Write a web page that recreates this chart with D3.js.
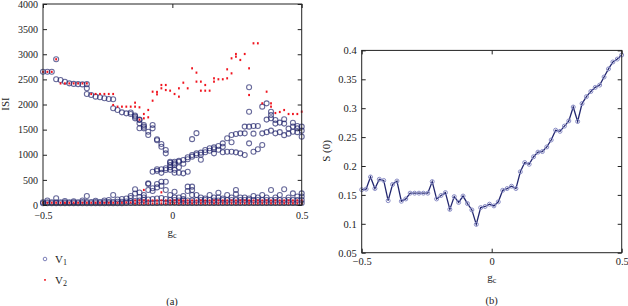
<!DOCTYPE html>
<html><head><meta charset="utf-8">
<script src="https://cdn.jsdelivr.net/npm/d3@7/dist/d3.min.js"></script>
<style>
body{margin:0;background:#fff;}
svg text{font-family:"Liberation Serif","Times New Roman",serif;fill:#222;}
</style></head>
<body><svg id="c" width="628" height="306"></svg>
<script>
// coupling strength grid (60 values, -0.5 .. 0.5)
const gc = [-0.5,-0.4831,-0.4661,-0.4492,-0.4322,-0.4153,-0.3983,-0.3814,-0.3644,-0.3475,
 -0.3305,-0.3136,-0.2966,-0.2797,-0.2627,-0.2458,-0.2288,-0.2119,-0.1949,-0.1780,
 -0.1610,-0.1441,-0.1271,-0.1102,-0.0932,-0.0763,-0.0593,-0.0424,-0.0254,-0.0085,
 0.0085,0.0254,0.0424,0.0593,0.0763,0.0932,0.1102,0.1271,0.1441,0.1610,
 0.1780,0.1949,0.2119,0.2288,0.2458,0.2627,0.2797,0.2966,0.3136,0.3305,
 0.3475,0.3644,0.3814,0.3983,0.4153,0.4322,0.4492,0.4661,0.4831,0.5];

// ISI values of V1 at each gc
const v1ISI = [
[2653,35,55],[2653,35,55,90],[2653,35,55],[2900,2501,35,55,133],[2487,35,55],
[2454,35,55,80],[2421,35,55],[2410,35,55,75],[2405,35,55],[2400,35,60,90],
[2405,2322,2209,35,60,179],[2189,35,60],[2156,35,60,85],[2143,35,60],[2123,35,60,90],
[2110,35,60,100],[2103,1924,35,60,199],[1890,35,65,110],[1844,35,65,120],[1824,40,70,130],
[1811,1840,40,75,179,140],[1758,1724,1780,40,80,312,230],[1691,1625,1526,1700,40,90,250,160],[1559,1592,1525,40,100,200,150],[1459,1393,40,110,431,418,300],
[1592,1525,663,40,120,332,280],[1307,1290,710,680,40,130,418,350],[1214,1160,710,640,45,140,464,380],[1094,1028,730,697,45,120,464,300],[862,796,842,750,700,45,100,200],
[829,862,800,643,700,45,100,265,150],[862,880,643,750,40,90,150],[895,630,820,40,90,120,180],[909,663,950,40,90,365,280],[962,995,1310,40,90,365,300,200],
[995,1028,1430,40,100,200],[1042,1000,900,40,100,150],[1094,1050,40,100,130],[1128,1080,40,100,200],[1147,1028,1110,40,90,150],
[1174,1100,40,90,245,150],[1227,1050,1160,40,100,130],[1327,1061,40,100,200],[1393,1061,1250,40,100,150],[1413,1048,40,100,299,220],
[1426,1028,40,100,150],[1426,995,1560,40,100,150],[2342,1857,1559,1227,40,100,130],[1572,1061,1420,40,100,180],[1572,1108,40,100,150],
[1957,1194,1426,40,100,200],[2023,1450,1700,40,100,150],[1857,1791,1725,1480,40,100,299],[1691,1426,1620,40,100,150],[1640,1450,40,100,200],
[1705,1620,1390,40,100,312],[1520,1420,40,100,150],[1638,1459,1560,40,100,232],[1572,1525,1450,40,100,170],[1559,1360,1480,40,100,232,170]
];

// ISI values of V2 at each gc
const v2ISI = [
[2650,45],[2650,45],[2650,45],[2900,45],[2420,45],
[2420,45],[2420,45],[2420,45],[2420,45],[2420,45],
[2420,45],[2209,45],[2209,45],[2209,45],[2209,45],
[2209,45],[2209,1990,45],[1957,45],[1957,45],[1957,50],
[1957,50],[2036,1957,30,90],[1944,1700,30,90],[1811,1725,30,90,299],[1891,1745,30,90],
[2076,2255,30,90],[2202,2250,30,90],[2388,2322,30,90,252],[2388,2288,30,90],[2275,30,90],
[2209,30,90],[2322,2156,30,90],[2434,30,90],[2322,30,90],[2720,30,90],
[2634,2455,30,90],[2455,2275,30,90],[2388,2275,30,90],[2275,30,90],[2521,2455,30,90],
[2502,30,90],[2502,30,90],[2700,2521,30,90],[2620,2919,30,90],[3005,2952,30,90],
[2886,30,90],[3005,30,90],[2720,2189,30,90],[3218,30,90],[3218,30,90],
[2023,30,90],[2255,30,90],[2023,1957,30,90],[1830,30,90],[1851,30,90],
[1890,30,90],[1811,30,90],[1811,30,90],[1811,30,90],[1857,30,90]
];

// S(0) at each gc
const s0 = [0.159,0.160,0.181,0.161,0.177,0.175,0.140,0.168,0.174,0.139,
 0.143,0.153,0.153,0.153,0.153,0.153,0.173,0.143,0.149,0.154,
 0.125,0.147,0.137,0.148,0.135,0.124,0.099,0.128,0.130,0.134,
 0.131,0.138,0.158,0.161,0.165,0.161,0.190,0.206,0.203,0.216,
 0.224,0.225,0.233,0.245,0.262,0.260,0.269,0.278,0.302,0.277,
 0.308,0.320,0.329,0.336,0.340,0.354,0.368,0.380,0.385,0.392];

const xTicks = [-0.5, 0, 0.5];
const isiTicks = [0,500,1000,1500,2000,2500,3000,3500,4000];
const sTicks = [0.05,0.1,0.15,0.2,0.25,0.3,0.35,0.4];

const svg = d3.select("#c");
const fmt = d3.format("~g");

function flat(arr){ const out=[]; arr.forEach((vals,i)=>vals.forEach(v=>out.push([gc[i],v]))); return out; }

function frame(g, x, y, yTicks, fs, xpad){
  const [x0,x1]=x.range(), [y0,y1]=y.range();
  g.append("g").attr("transform",`translate(0,${y0})`)
    .call(d3.axisBottom(x).tickValues(xTicks).tickSize(-4).tickSizeOuter(0).tickPadding(xpad).tickFormat(fmt))
    .call(a=>a.select(".domain").remove());
  g.append("g").attr("transform",`translate(0,${y1})`)
    .call(d3.axisTop(x).tickValues(xTicks).tickSize(-4).tickSizeOuter(0).tickFormat(""))
    .call(a=>a.select(".domain").remove());
  g.append("g").attr("transform",`translate(${x0},0)`)
    .call(d3.axisLeft(y).tickValues(yTicks).tickSize(-4).tickSizeOuter(0).tickPadding(5).tickFormat(fmt))
    .call(a=>a.select(".domain").remove());
  g.append("g").attr("transform",`translate(${x1},0)`)
    .call(d3.axisRight(y).tickValues(yTicks).tickSize(-4).tickSizeOuter(0).tickFormat(""))
    .call(a=>a.select(".domain").remove());
  g.append("rect").attr("x",x0).attr("y",y1).attr("width",x1-x0).attr("height",y0-y1)
    .attr("fill","none").attr("stroke","#222").attr("stroke-width",1);
  g.selectAll(".tick text").attr("font-size",fs).attr("fill","#222").attr("font-family","Liberation Serif");
  g.selectAll(".tick line").attr("stroke","#222");
}

// ---------- panel (a)
const xL = d3.scaleLinear([-0.5,0.5],[43,301.7]);
const yL = d3.scaleLinear([0,4000],[205,4]);
const gA = svg.append("g");

gA.append("g").selectAll("circle").data(flat(v1ISI)).join("circle")
  .attr("cx",d=>xL(d[0])).attr("cy",d=>yL(d[1])).attr("r",2.5)
  .attr("fill","none").attr("stroke","#1f226a").attr("stroke-opacity",0.68).attr("stroke-width",1.1);
gA.append("g").selectAll("rect").data(flat(v2ISI)).join("rect")
  .attr("x",d=>xL(d[0])-0.9).attr("y",d=>yL(d[1])-1.1).attr("width",1.8).attr("height",2.2)
  .attr("fill","#f0141e");
frame(gA, xL, yL, isiTicks, 10, 7);

gA.append("text").attr("transform","translate(9,104) rotate(-90)").attr("text-anchor","middle")
  .attr("font-size",11).text("ISI");
const glA = gA.append("text").attr("x",172).attr("y",236).attr("text-anchor","middle").attr("font-size",11);
glA.append("tspan").text("g");
glA.append("tspan").attr("font-size",8).attr("dy",2).text("c");

// legend
gA.append("circle").attr("cx",45).attr("cy",259).attr("r",1.8).attr("fill","none").attr("stroke","#7c7fb8");
gA.append("rect").attr("x",44.2).attr("y",279).attr("width",1.6).attr("height",1.8).attr("fill","#f0141e");
const l1 = gA.append("text").attr("x",55).attr("y",263).attr("font-size",11);
l1.append("tspan").text("V"); l1.append("tspan").attr("font-size",8).attr("dy",2).text("1");
const l2 = gA.append("text").attr("x",55).attr("y",284).attr("font-size",11);
l2.append("tspan").text("V"); l2.append("tspan").attr("font-size",8).attr("dy",2).text("2");
gA.append("text").attr("x",172).attr("y",305).attr("text-anchor","middle").attr("font-size",10.5).text("(a)");

// ---------- panel (b)
const xR = d3.scaleLinear([-0.5,0.5],[361.7,621.7]);
const yR = d3.scaleLinear([0.05,0.4],[252.7,50.4]);
const gB = svg.append("g");
const pts = gc.map((g,i)=>[g,s0[i]]);
gB.append("path").datum(pts).attr("fill","none").attr("stroke","#23276f").attr("stroke-width",1.3)
  .attr("d",d3.line().x(d=>xR(d[0])).y(d=>yR(d[1])));
gB.append("g").selectAll("circle").data(pts).join("circle")
  .attr("cx",d=>xR(d[0])).attr("cy",d=>yR(d[1])).attr("r",2)
  .attr("fill","none").attr("stroke","#8a8dc6").attr("stroke-width",1);
frame(gB, xR, yR, sTicks, 10.5, 5);

gB.append("text").attr("transform","translate(330,151) rotate(-90)").attr("text-anchor","middle")
  .attr("font-size",11).text("S (0)");
const glB = gB.append("text").attr("x",491.7).attr("y",281).attr("text-anchor","middle").attr("font-size",11);
glB.append("tspan").text("g");
glB.append("tspan").attr("font-size",8).attr("dy",2).text("c");
gB.append("text").attr("x",491.7).attr("y",304).attr("text-anchor","middle").attr("font-size",10.5).text("(b)");
</script></body></html>
